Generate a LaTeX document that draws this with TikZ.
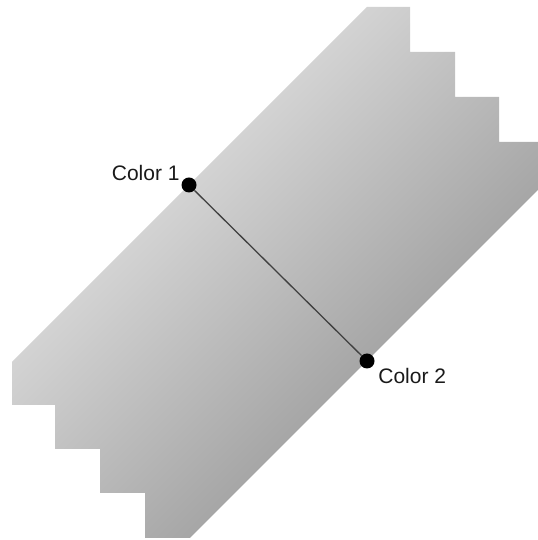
\documentclass[tikz,border=0pt]{standalone}
\usepackage{fontspec}
\setmainfont{Liberation Sans}
\usepackage{tikz}
\usetikzlibrary{positioning,calc}
\definecolor{cL}{HTML}{D3D3D3}
\definecolor{cD}{HTML}{A6A6A6}
\definecolor{cK}{HTML}{1A1A1A}
\tikzset{
  dot/.style={circle,fill=black,inner sep=0pt,minimum size=15bp},
  lbl/.style={inner sep=0pt,text=cK,font=\fontsize{21bp}{25bp}\selectfont},
  link/.style={draw=black!75,line width=1.3bp},
}

\begin{document}
\begin{tikzpicture}[x=1bp,y=1bp]
  \useasboundingbox (0,0) rectangle (538,540);
  \coordinate (e1) at (189,355);
  % stepped band, shaded across its width
  \begin{scope}
    \clip (12,178) -- (367,533) -- (410,533) -- (410,488) -- (455,488)
      -- (455,443) -- (499,443) -- (499,398) -- (538,398) -- (538,350)
      -- (190,2) -- (145,2) -- (145,47) -- (100,47) -- (100,91)
      -- (55,91) -- (55,135) -- (12,135) -- cycle;
    \shade[transform canvas={rotate around={-45:(e1)}},
      left color=cL,right color=cD]
      ($(e1)+(0,-700)$) rectangle ($(e1)+(250.3,700)$);
  \end{scope}
  \node[dot] (c1) at (e1) {};
  \node[dot] (c2) at (367,179) {};
  \draw[link] (c1) -- (c2);
  \node[lbl,left=1.5bp of c1,yshift=12bp] (l1) {Color 1};
  \node[lbl,right=3.5bp of c2,yshift=-15bp] (l2) {Color 2};
\end{tikzpicture}
\end{document}
